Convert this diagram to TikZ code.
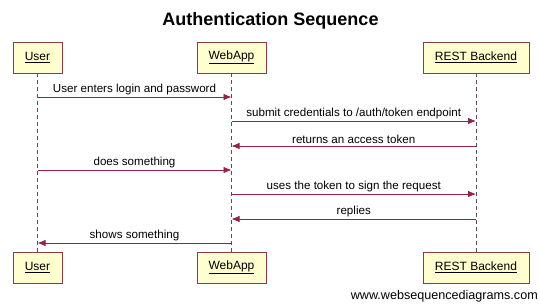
\documentclass[tikz,border=0pt]{standalone}
\usepackage{fontspec}
\setmainfont{Liberation Sans}
\usetikzlibrary{arrows.meta}
\definecolor{boxfill}{HTML}{FEFECE}
\definecolor{boxdraw}{HTML}{8A3A4E}
\definecolor{msg}{HTML}{96204A}
\definecolor{life}{HTML}{5A5050}
\tikzset{
  actor/.style={draw=boxdraw, fill=boxfill, line width=0.8pt, minimum height=31pt, inner xsep=0pt, font=\fontsize{12}{14}\selectfont},
  lifeline/.style={draw=life, line width=0.7pt, dash pattern=on 4pt off 3pt},
  message/.style={draw=msg, line width=0.8pt, -{Latex[length=8pt,width=6.5pt]}},
  msglabel/.style={font=\fontsize{11.6}{13}\selectfont, inner sep=0pt},
}
\begin{document}
\begin{tikzpicture}[x=1pt,y=-1pt]
\useasboundingbox (0,0) rectangle (540,303);
\node[font=\bfseries\fontsize{18}{20}\selectfont] (title) at (270.5,21) {Authentication Sequence};
% top actors
\node[actor, minimum width=49pt] (ut) at (37.5,57.5) {\underline{User}};
\node[actor, minimum width=69pt] (wt) at (231.5,57.5) {\underline{WebApp}};
\node[actor, minimum width=106pt] (rt) at (476,57.5) {\underline{REST Backend}};
% bottom actors
\node[actor, minimum width=49pt] (ub) at (37.5,267.5) {\underline{User}};
\node[actor, minimum width=69pt] (wb) at (231.5,267.5) {\underline{WebApp}};
\node[actor, minimum width=106pt] (rb) at (476,267.5) {\underline{REST Backend}};
% lifelines
\draw[lifeline] (ut.south) -- (ub.north);
\draw[lifeline] (wt.south) -- (wb.north);
\draw[lifeline] (rt.south) -- (rb.north);
% message anchor coordinates
\coordinate (u1) at (ut.south |- 0,97);  \coordinate (w1) at (wt.south |- 0,97);
\coordinate (w2) at (wt.south |- 0,121); \coordinate (r2) at (rt.south |- 0,121);
\coordinate (r3) at (rt.south |- 0,146); \coordinate (w3) at (wt.south |- 0,146);
\coordinate (u4) at (ut.south |- 0,170); \coordinate (w4) at (wt.south |- 0,170);
\coordinate (w5) at (wt.south |- 0,194); \coordinate (r5) at (rt.south |- 0,194);
\coordinate (r6) at (rt.south |- 0,219); \coordinate (w6) at (wt.south |- 0,219);
\coordinate (w7) at (wt.south |- 0,243); \coordinate (u7) at (ut.south |- 0,243);
\draw[message] (u1) -- node[msglabel, above=1.5pt] (l1) {User enters login and password} (w1);
\draw[message] (w2) -- node[msglabel, above=1.5pt] (l2) {submit credentials to /auth/token endpoint} (r2);
\draw[message] (r3) -- node[msglabel, above=1.5pt] (l3) {returns an access token} (w3);
\draw[message] (u4) -- node[msglabel, above=1.5pt] (l4) {does something} (w4);
\draw[message] (w5) -- node[msglabel, above=1.5pt] (l5) {uses the token to sign the request} (r5);
\draw[message] (r6) -- node[msglabel, above=1.5pt] (l6) {replies} (w6);
\draw[message] (w7) -- node[msglabel, above=1.5pt] (l7) {shows something} (u7);
\node[font=\fontsize{12.6}{14}\selectfont, anchor=east, inner sep=0pt] (wm) at (538,296) {www.websequencediagrams.com};
\end{tikzpicture}
\end{document}
